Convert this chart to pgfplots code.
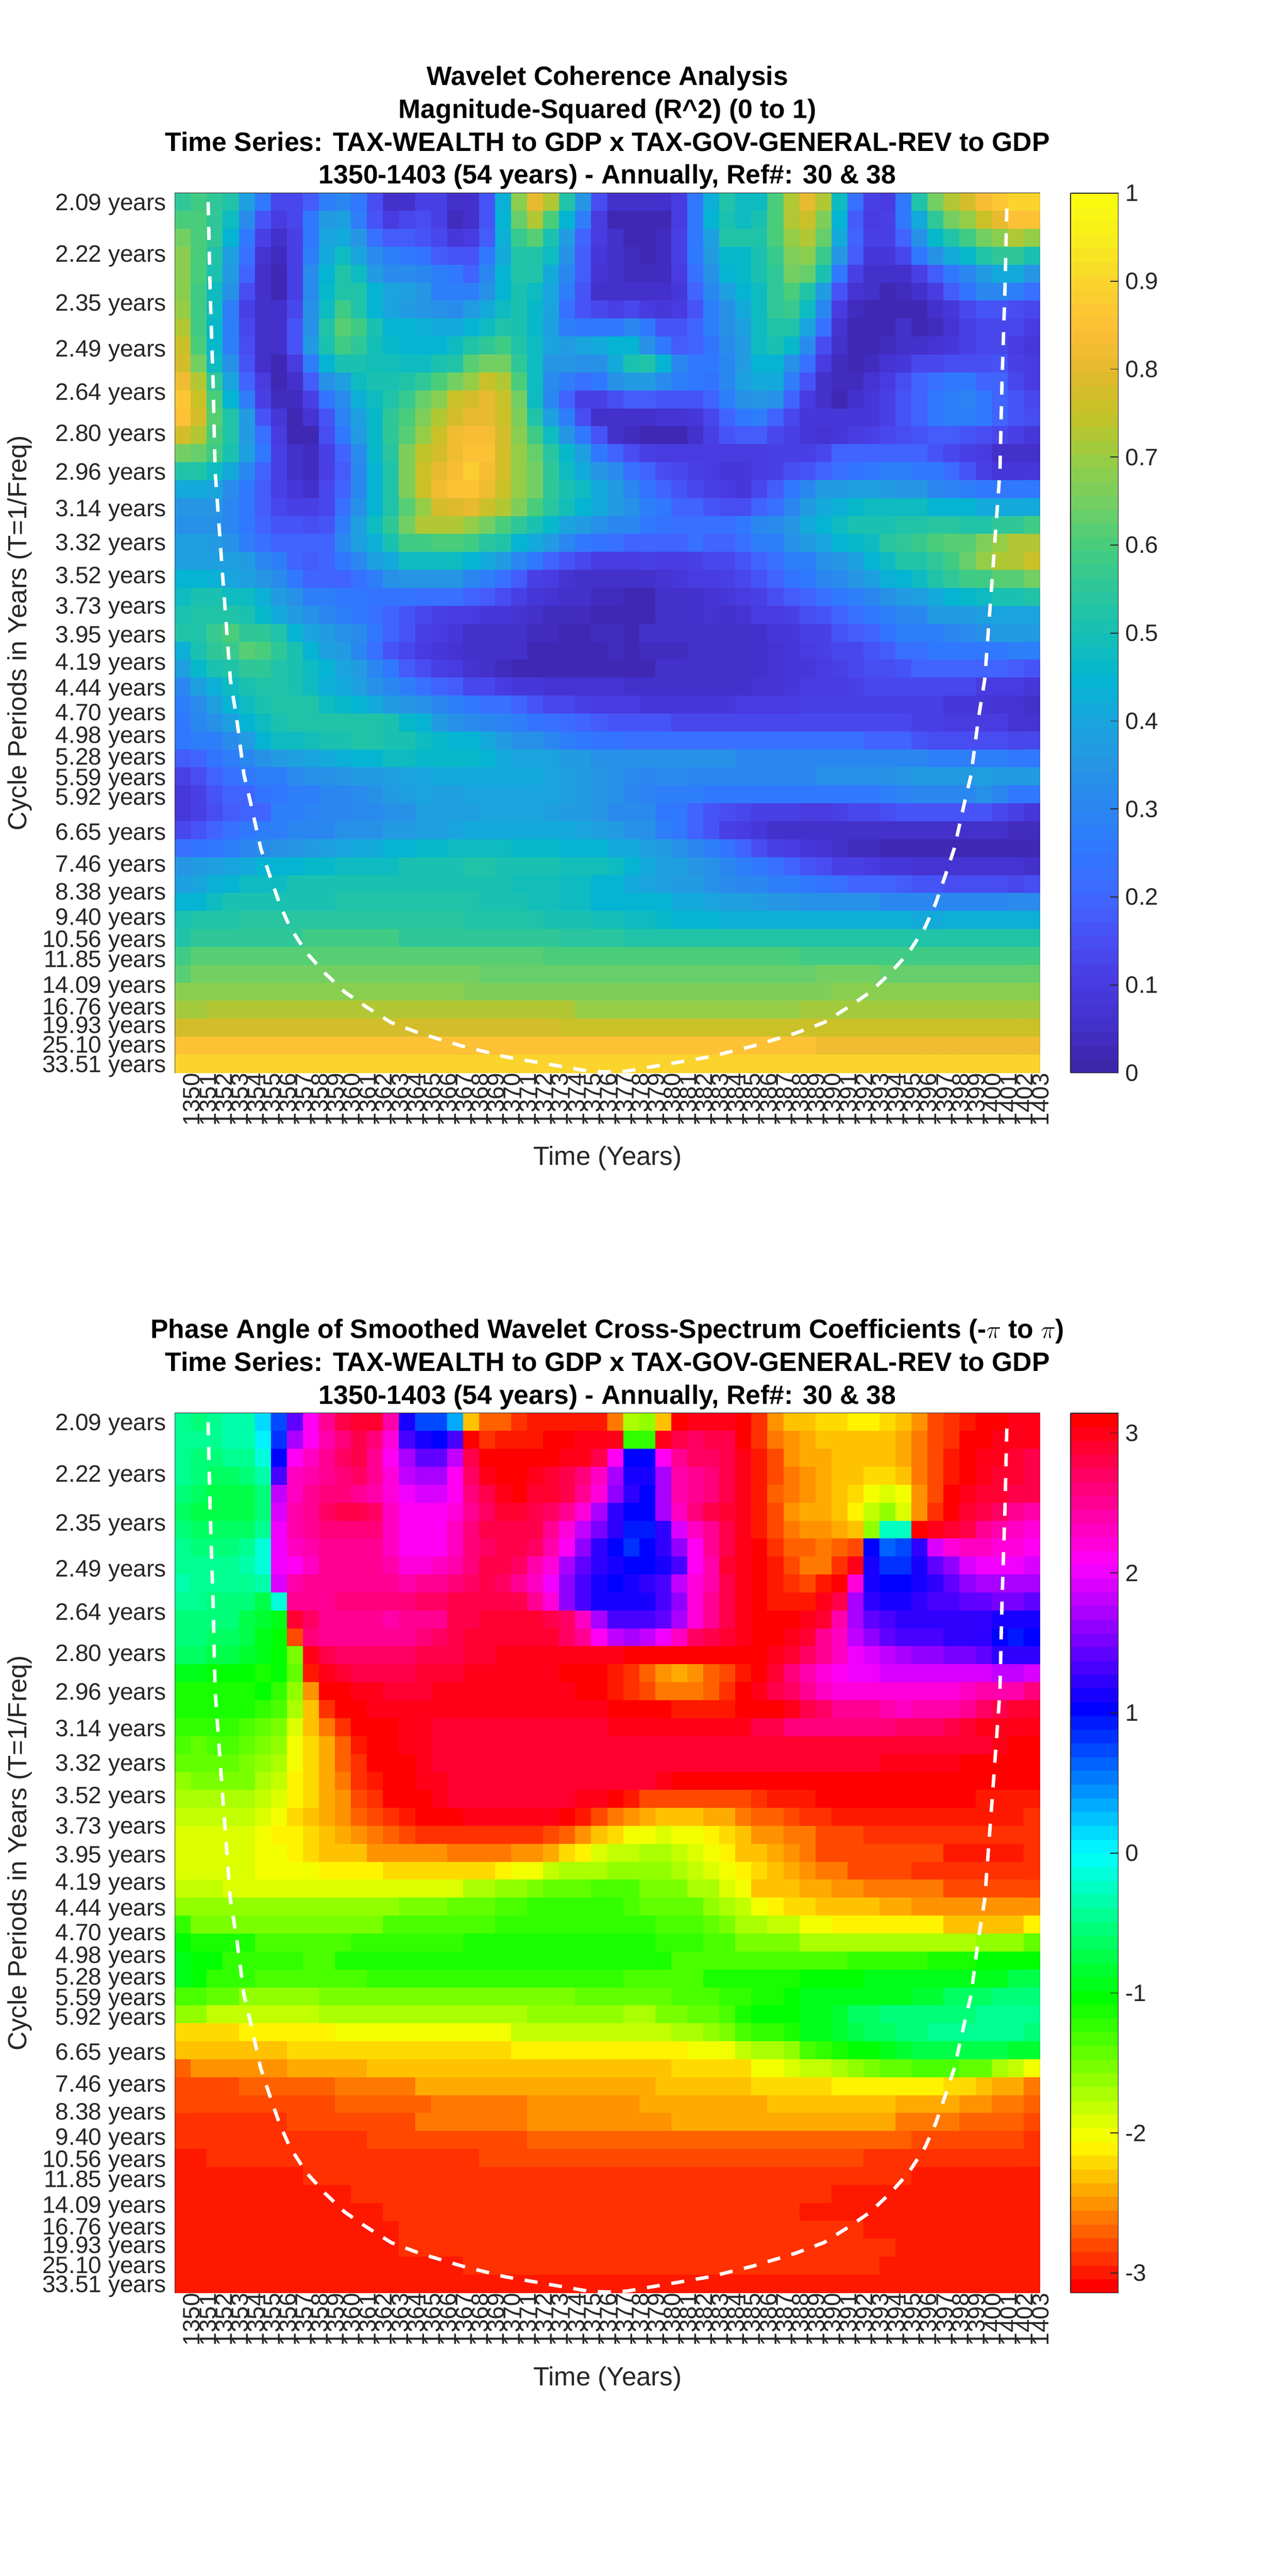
\documentclass[border=0pt]{standalone}
\usepackage{pgfplots}
\pgfplotsset{compat=1.18}
\usepackage{fontspec}
\setmainfont{Liberation Sans}
\definecolor{tickgray}{rgb}{0.15,0.15,0.15}
\newcount\colc \newcount\rowc \newcount\repc
\def\parseitem#1x#2x#3\relax{\def\cellval{#1}\repc=#2\relax}
\def\appendcell{\ifnum\colc<54 \edef\rowdata{\rowdata(\the\numexpr1350+\colc\relax,\the\rowc)[\cellval e-2]}\advance\colc by 1 \fi}
\makeatletter
\def\drow#1{\colc=0 \def\rowdata{}\@for\cellv:=#1\do{\expandafter\parseitem\cellv x1x\relax \loop\ifnum\repc>0 \appendcell\advance\repc by -1 \repeat}%
 \loop\ifnum\colc<54 \appendcell\repeat
 \xdef\alldata{\alldata\rowdata}\advance\rowc by 1 }
\makeatother
% ---- R^2, hundredths; NxM = value N in M adjacent cells
\def\alldata{}\rowc=0
\drow{55,58,56,52,38,25,14,13,18,28,30,25,15,6,6,12,12,5,5,16,43,68,80,73,53,35,15,5,5,5,5,10,25,43,52,47,48,60,73,80,72,47,22,12,10,25,52,65,73,77,84,87,90,90}
\drow{60,60,55,48,32,17,10,13,25,36,38,28,17,10,13,15,12,4,6,17,45,63,72,60,45,27,10,3,3,3,3,10,25,44,50,48,50,60,72,75,67,45,18,10,12,25,42,55,65,70,75,80,85,85}
\drow{65,60,55,45,25,12,6,12,25,40,42,35,22,18,18,17,14,8,10,18,43,57,62,50,36,20,10,5,3,3,4,12,25,38,52,52,53,60,70,72,63,42,20,12,12,20,33,46,53,58,65,68,73,70}
\drow{68,60,52,38,22,7,4,12,28,42,47,40,32,27,25,24,18,17,17,25,42,52,52,47,33,18,8,5,4,2,4,12,25,36,46,46,50,57,67,68,57,35,18,9,9,14,25,33,42,46,52,55,55,50}
\drow{68,60,50,36,20,5,3,12,32,45,52,48,36,32,32,30,27,25,20,30,45,52,52,42,30,18,7,5,4,4,4,10,23,33,45,46,50,55,65,63,50,26,12,6,6,6,12,18,26,31,37,42,42,35}
\drow{68,58,47,33,15,5,3,12,32,46,53,52,45,40,38,35,28,27,27,33,45,50,47,40,28,16,5,5,5,5,5,8,19,30,38,45,47,55,60,53,37,17,7,5,3,4,5,10,18,24,30,30,27,22}
\drow{70,58,47,28,12,5,5,14,33,48,58,53,45,40,37,35,33,32,37,42,48,50,46,40,23,17,14,12,13,10,9,10,17,27,33,41,48,55,57,47,30,10,4,3,3,3,3,5,9,13,16,17,15,14}
\drow{72,58,46,27,13,5,5,17,33,52,62,58,50,45,44,43,42,42,45,47,52,50,46,38,28,26,26,26,30,26,17,17,20,27,33,39,48,52,53,40,22,7,3,3,3,5,2,4,7,12,14,14,13,10}
\drow{76,60,46,28,15,5,5,17,36,50,58,55,49,46,45,45,45,48,52,56,58,52,47,40,37,40,42,45,45,33,26,18,20,24,32,37,47,50,46,32,15,6,3,3,4,5,5,7,9,12,14,14,10,9}
\drow{78,65,47,33,17,6,3,10,27,45,51,51,49,49,47,48,50,53,62,65,65,55,48,35,35,33,33,42,50,52,45,30,25,25,30,37,45,45,33,23,10,4,3,4,7,9,13,14,15,15,15,16,11,10}
\drow{82,72,55,40,20,10,3,5,18,34,38,47,50,50,52,56,60,65,70,75,72,60,48,32,27,23,26,33,37,37,32,27,25,24,30,38,42,42,28,16,5,4,4,7,10,15,19,22,25,25,20,20,13,10}
\drow{86,75,60,45,27,11,4,4,11,24,32,43,47,53,57,63,68,75,78,80,75,65,47,30,20,12,12,15,18,18,17,17,17,20,28,33,35,33,20,10,5,3,5,8,11,16,20,26,27,29,25,20,16,14}
\drow{85,77,62,53,37,17,8,3,7,17,29,38,46,55,60,67,72,78,81,81,76,66,52,38,27,15,6,5,5,6,7,7,8,14,20,26,27,20,14,9,8,8,8,9,12,17,20,26,27,27,26,20,17,15}
\drow{78,72,60,52,37,23,10,3,3,15,25,37,46,55,62,70,75,82,84,83,77,68,58,47,35,26,17,5,4,3,2,3,6,11,17,18,18,14,11,8,7,8,10,11,13,15,17,18,18,17,15,13,12,9}
\drow{65,63,58,50,38,25,12,5,4,11,20,32,46,54,66,74,77,82,85,85,77,70,64,54,46,38,26,20,15,12,10,10,10,10,10,10,10,11,12,12,13,20,20,20,20,20,20,17,14,12,10,6,5,6}
\drow{53,53,47,42,30,20,11,5,4,12,18,30,44,53,66,75,80,84,88,84,77,70,65,55,48,42,35,32,22,20,15,14,12,10,9,9,10,12,15,17,20,22,24,25,27,27,26,25,21,17,12,9,8,8}
\drow{42,42,40,32,26,18,12,8,6,13,20,30,45,52,67,75,82,85,85,82,76,70,65,55,50,47,42,36,30,24,20,17,14,12,10,9,13,18,25,30,36,37,38,38,37,35,35,31,29,27,25,25,25,25}
\drow{35,35,35,30,25,18,14,11,11,14,23,33,45,52,62,70,77,79,80,76,72,66,60,54,49,45,42,36,33,27,25,20,19,17,15,15,20,22,30,37,42,43,46,47,47,47,47,45,45,45,42,42,42,42}
\drow{33,33,33,30,25,19,17,16,15,17,27,38,47,55,65,72,72,72,70,65,60,55,50,46,40,37,34,30,30,26,24,23,22,22,22,25,30,32,35,42,45,47,50,50,50,52,52,54,54,53,52,55,55,58}
\drow{38,38,37,33,27,23,20,19,19,20,30,38,43,50,58,58,60,60,58,54,52,45,42,37,30,25,24,23,20,20,20,20,22,20,20,22,27,27,33,37,40,45,46,47,54,55,57,60,62,62,66,70,72,73}
\drow{38,38,38,38,36,30,27,20,18,20,25,30,38,42,47,48,48,48,45,42,37,30,25,20,17,13,10,10,10,11,10,10,12,13,14,17,20,23,27,28,33,35,38,45,47,52,53,55,58,63,70,72,73,75}
\drow{45,45,43,40,38,35,32,25,20,20,20,22,27,33,35,35,35,35,30,28,22,18,12,10,7,6,5,5,6,6,7,8,10,10,12,14,17,20,24,26,30,32,35,38,43,45,47,52,55,58,58,62,62,65}
\drow{47,50,50,48,47,43,37,33,27,27,25,25,24,24,24,23,22,22,20,18,15,12,9,7,6,5,4,4,3,3,5,5,6,7,8,10,12,15,18,19,22,26,28,30,33,36,38,42,45,46,47,50,50,53}
\drow{50,53,53,53,50,46,42,37,33,30,28,25,22,20,17,13,11,10,10,8,8,7,5,4,4,4,2,3,3,3,5,5,5,7,6,7,10,10,12,15,17,20,23,26,27,30,31,36,37,37,38,40,40,40}
\drow{52,53,57,60,56,55,52,45,40,36,33,32,26,20,16,12,10,8,6,6,6,5,4,4,3,2,4,4,3,6,6,6,5,5,5,6,6,8,9,11,11,17,18,20,24,27,27,28,30,32,33,36,36,36}
\drow{43,50,55,57,62,60,55,50,45,38,37,30,23,17,14,10,9,7,6,5,5,5,3,3,3,3,3,4,2,4,4,4,5,5,5,5,6,7,8,10,12,13,14,17,18,22,23,25,26,26,26,26,27,27}
\drow{38,46,50,53,55,55,53,50,47,44,40,36,30,25,18,15,12,10,7,6,4,3,3,3,3,3,3,3,3,3,5,5,5,5,5,6,6,7,8,9,10,11,13,15,15,16,19,20,20,20,20,19,18,17}
\drow{30,38,43,48,50,52,52,50,47,43,42,38,33,30,28,23,20,18,14,13,10,9,9,7,7,7,7,7,6,5,5,5,5,6,6,6,7,7,9,10,10,10,11,13,13,14,14,14,14,13,10,10,10,8}
\drow{27,32,38,45,47,50,52,53,52,48,46,44,42,37,35,33,30,28,25,23,22,19,16,14,13,11,10,10,10,9,9,9,9,9,9,10,10,10,10,11,12,12,12,12,12,12,12,11,9,9,8,7,7,6}
\drow{26,30,33,38,44,48,50,52,52,52,52,52,52,50,46,44,37,34,32,31,29,28,24,23,21,20,18,17,17,16,16,14x14,13,12,12,10,10,10,10,7,7,6}
\drow{26,27,28,32,36,44,47,47,49,50,50,52,52,50,50,48,46,45,44,41,37,34,34,30,28,26,24,24,23x5,22x10,20,20,20,17,15x5,13,13}
\drow{18,20,24,27,30,33,37,39,40,42,43,45,45,48,48,46,46,46,46,45,42,40,40,40,36,36,34,33x8,31x5,30x7,27x5,26,26}
\drow{12,15,20,22,25,27,27,32,33,34,35,36,37,38,40,40,41,41,42,42,42,41,41,40,38,37,35,33,32,31,32,32,31,30,30,30,30,31,31,31,33,33,33,34,34,35,36,37,37,37,38,36,36,36}
\drow{8,11,16,19,20,24,25,27,28,30,30,32,33,36,38,40,39,39,40,40,40,40,40,40,38,37,35,33,30,29,28,28,28,25x9,26,26,28,29,30,30,31,31,33,30,26,26}
\drow{9,12,15,18,20,20,27,27,29,30,31,32,32,34,34,38,38,38,39,40,40,40,40,38,37,36,35,32,32,32,25,25,20,17,15,13,11,11,11,10,10,12,13,13,15,17,17,16,16,17,17,13,12,8}
\drow{14,16,20,22,25,27,27,30,30,30,33,33,34,37,37,39,39,40,41,42,42,42,42,41,41,40,38,36,33,33,27,25,20,17,12,10,8,6,5x14,4,4,2,2}
\drow{22,24,25,28,30,32,33,35,36,38,40,41,42,44,45,46,46,47,47,47,47,46,46,46,45,45,45,42,42,38,37,34,30,27,24,20,15,12,10,9,7,6,4,4,3x5,2x5}
\drow{35,37,38,40,42,44,45,45,46,46,47,47,48,48,50,50,50,50,52,52,51,51,51,51,49,49,49,47,45,42,38,38,35,33,31,27,26,23,20,17,15,12,12,10,8,8,7x7,6}
\drow{38,40,43,44,47,47,47,50x6,51x4,50x4,49,49,49,47,47,45,45,42,40,38,36,36,33,32,30,30,28,27,25,24,22,20,20,20,18,17,16,15,15,15,15,14,15}
\drow{44,45,48,50x7,52x9,50,50,50,49,49,47,47,45,45,45,44,44,42,42,40,38,38,36,35,35,34,34,34,33,33,30x8,32}
\drow{50,52x3,54x14,52x5,50x3,49x2,47x2,46,45x3,43x12,42x2,43x6}
\drow{53,56x7,58x6,56x10,54x4,53x26}
\drow{58,61x22,60x16,59x15}
\drow{62,65x18,64x21,65x4,63x10}
\drow{68x18,67x23,68x13}
\drow{71x2,73x12,72x11,70x14,71x15}
\drow{77x24,76x30}
\drow{85x40,82x14}
\drow{90x54}
\let\dataA\alldata
% ---- phase angle, hundredths of a radian
\def\alldata{}\rowc=0
\drow{-40,-50,-45,-35,-30,15,70,140,210,250,275,290,290,240,110,75,75,30,-230,-270,-270,-285,-300,-300,-300,-300,-300,-260,-170,-165,-230,-310,295,300,300,-310,-285,-250,-235,-235,-225,-220,-210,-210,-220,-230,-250,-275,-290,-300,310,305,300,300}
\drow{-40,-45,-40,-35,-30,0,80,170,215,245,260,280,260,220,135,115,105,130,-310,-285,-295,-295,-295,-310,-310,300,295,300,-125,-125,295,280,270,275,280,305,-290,-265,-250,-240,-230,-230,-230,-230,-230,-240,-260,-275,-290,-310,305,300,295,295}
\drow{-40,-50,-50,-45,-40,-10,105,215,230,255,265,275,250,215,170,145,145,185,280,-310,-310,-310,-310,-310,300,295,280,215,100,100,215,255,265,270,280,300,-300,-275,-250,-240,-240,-230,-230,-230,-230,-240,-260,-280,-300,-310,300,295,290,280}
\drow{-45,-55,-60,-60,-55,-30,130,230,240,255,260,265,250,220,185,175,175,210,265,295,305,305,300,290,280,260,230,170,110,110,170,240,255,260,280,300,-300,-275,-260,-250,-240,-235,-235,-225,-225,-235,-260,-280,-300,310,300,290,285,280}
\drow{-55,-65,-70,-70,-70,-50,185,235,250,260,260,255,245,225,205,195,195,215,260,280,300,310,290,285,275,255,220,160,120,105,175,240,255,260,280,300,-300,-270,-260,-250,-240,-235,-220,-205,-190,-205,-250,-280,-310,300,290,285,280,280}
\drow{-60,-70,-70,-70,-70,-55,195,240,255,270,275,275,265,235,215,210,210,220,255,270,285,285,280,270,250,220,170,120,105,105,170,235,260,275,285,300,-300,-280,-255,-245,-240,-230,-210,-180,-160,-190,-250,-290,-310,290,280,270,250,240}
\drow{-50,-60,-60,-60,-60,-40,200,240,250,260,260,260,260,230,215,215,215,235,260,275,280,280,275,250,220,185,150,120,90,90,125,195,230,255,280,300,-295,-280,-265,-255,-250,-245,-235,-165,-20,-20,310,295,285,275,255,240,230,225}
\drow{-40,-50,-50,-50,-40,-15,200,230,245,255,255,255,255,230,215,210,210,230,260,270,275,275,265,240,210,160,125,105,85,100,120,160,215,250,280,300,310,-290,-270,-270,-260,-270,-280,105,60,75,125,195,225,230,230,225,220,210}
\drow{-40,-45,-45,-45,-35,-10,200,215,230,250,250,250,250,240,220,220,230,245,260,275,275,270,240,220,175,145,120,110,105,105,115,135,210,245,285,300,310,-295,-280,-265,-265,-285,300,115,85,85,110,140,160,190,200,205,205,190}
\drow{-30,-40,-40,-40,-40,-30,190,240,250,255,255,255,250,250,245,250,255,260,265,275,270,255,230,200,160,135,110,105,110,120,135,180,220,240,280,300,310,-300,-290,-280,-300,310,220,110,100,100,110,120,140,160,175,175,175,175}
\drow{-40,-45,-50,-50,-55,-70,-10,250,255,255,260,260,260,260,260,265,270,275,275,280,280,275,250,220,160,130,110,110,110,110,130,165,225,255,280,300,310,-300,-300,-300,300,280,175,120,115,115,120,130,135,145,145,155,155,145}
\drow{-50,-50,-55,-55,-70,-85,-90,285,270,255,255,255,250,245,250,250,255,280,280,285,285,285,285,275,265,235,170,130,130,130,140,175,220,250,280,300,305,314,314,300,285,240,170,140,130,120,120,120,125,125,125,110,110,110}
\drow{-55,-55,-60,-65,-75,-90,-100,-275,260,255,255,255,255,255,250,260,270,275,285,285,290,290,290,285,270,255,215,185,175,185,200,230,265,280,290,300,305,310,300,285,255,230,185,165,140,135,135,135,120,120,120,105,95,100}
\drow{-60,-65,-70,-75,-80,-95,-105,-150,300,280,270,270,270,270,270,275,275,275,285,285,295,300,300,300,300,300,300,300,310,305,314,314,314,314,314,314,310,300,285,265,255,235,205,195,180,175,160,160,150,150,140,125,120,120}
\drow{-90,-95,-100,-100,-105,-110,-105,-145,-295,300,290,275,275,275,275,285,290,290,295,295,300,300,300,300,305,310,-310,-300,-285,-270,-255,-245,-255,-270,-280,-300,305,285,260,240,220,210,205,205,195,195,195,195,195,195,190,185,185,195}
\drow{-110,-110,-110,-110,-115,-105,-120,-165,-255,314,305,295,295,290,285,290,295,295,300,300,300,300,300,300,300,305,310,-300,-285,-280,-265,-265,-265,-270,-290,-314,295,280,265,250,235,225,220,220,220,220,220,220,220,230,240,245,245,260}
\drow{-115,-115,-115,-115,-115,-125,-130,-170,-235,-285,-314,310,300x15,305,310,314,-310,-300,-295,-295,-300,-310,-314,305,295,275,265,255,250,250,240,235,245,245,245,255,270,280,285,290,290,300}
\drow{-120,-120,-120,-125,-130,-140,-155,-195,-230,-260,-285,-310,305,305,300,295,290x11,300x6,295,295,295,280,275,260,260,260,260,260,260,260,270,270,270,280,290,295,300,300,300}
\drow{-135,-140,-135,-135,-140,-155,-165,-200,-220,-245,-270,-295,314,305,300,300,290x6,285x24,290x5,300,305,310}
\drow{-145,-145,-140,-145,-155,-165,-170,-205,-220,-245,-270,-285,-314,305,305,300,290,285x14,290x13,295x4,300,305x4,314}
\drow{-160,-150,-150,-150,-155,-170,-180,-210,-225,-240,-260,-285,-300,-314,310,300,300,290,285x10,290,290,295,305,305,314x3,305x13,314x5}
\drow{-175x3,-170,-175,-185,-195,-210,-225,-240,-255,-275,-290,-314,-314,305,300,290x8,300,300,310,-300,-275,-280x6,-290,-295x3,-310x10,-295x4}
\drow{-185x5,-195,-205,-220,-230,-245,-250,-270,-280,-290,-300,-314,-314,305,300x6,-314,-300,-275,-265,-250,-240,-230x3,-240,-245,-260,-270,-270,-280,-290,-290,-295,-300x11,-285}
\drow{-195x5,-205,-210,-215,-225,-235,-245,-255,-260,-270,-280,-285x8,-275,-270,-250,-235,-225,-205,-205,-195,-205,-205,-215,-225,-230,-250,-255,-260,-265,-275,-280,-280,-290x11}
\drow{-195x5,-205,-205,-215,-225,-230,-230,-235,-250,-250,-255x3,-260x4,-255x2,-245,-225,-215,-195,-185,-180,-170,-170,-180,-190,-205,-215,-230,-235,-240,-255,-260,-275,-275,-280x6,-295x5,-285}
\drow{-195x5,-205x4,-215x4,-220x7,-210,-205,-200,-185,-175,-170,-170,-165x4,-170,-180,-190,-200,-215,-225,-235,-245,-255,-265,-265,-280x4,-285x8}
\drow{-185x3,-195x15,-175x2,-160x2,-150,-140x3,-130x2,-135,-150,-150,-155,-170,-175,-195,-205,-230x2,-235,-245x2,-255x2,-260x5,-275x6}
\drow{-165x14,-155x3,-145x3,-135x2,-120x6,-130,-140,-145x3,-160,-170,-185,-200,-210,-225x2,-235x4,-245x2,-255x8}
\drow{-125,-150x12,-135x4,-130x3,-118x8,-120x2,-130x3,-140,-155,-175x2,-185x2,-200x2,-215x7,-230x5,-210}
\drow{-105,-115x4,-130x6,-120x7,-110x12,-120x3,-135x2,-150x4,-170x11,-160x3,-145}
\drow{-95,-105x2,-120x5,-130x2,-115x18,-110x3,-130x7,-135x4,-125x5,-115x3,-105x3,-100}
\drow{-95,-105,-120x3,-135x7,-125x16,-130x5,-115x3,-110x3,-105x4,-95x6,-90x3,-75x2}
\drow{-130x2,-145x2,-160x5,-155x16,-140x3,-145x3,-130x3,-120x2,-110x2,-105,-95x3,-90x4,-85x2,-65x3,-55x3}
\drow{-165x2,-185x7,-175x13,-160x6,-170x2,-150x2,-140x2,-130,-110,-105x2,-100,-95x2,-80,-65x2,-55x2,-50x4,-45x4}
\drow{-220x2,-225x2,-215x6,-205x11,-185x7,-180x3,-170x2,-160,-150,-135,-125,-120,-115,-95x2,-80,-70,-60x2,-55x2,-45x6,-55}
\drow{-235x7,-225x4,-220x10,-210x11,-200x3,-185,-175,-170,-160,-135,-125,-110,-100,-100,-95,-80,-70x6,-85x2}
\drow{-270,-255x6,-245x5,-235x6,-230x13,-225x5,-205x2,-195,-185x2,-175,-165,-155,-145x2,-135x3,-140x2,-170,-180,-205}
\drow{-280x4,-270x6,-260x5,-245x7,-240x8,-230x6,-220x5,-210x7,-220x2,-230,-245x2,-260}
\drow{-280x10,-270x6,-260x6,-250x7,-240x8,-230x8,-240x4,-250x2,-260x2,-270}
\drow{-285x7,-275x8,-265x7,-255x9,-245x14,-260x4,-270x4,-275}
\drow{-285x12,-275x10,-270x24,-280x7,-285}
\drow{-295x2,-285x17,-278x24,-285x11}
\drow{-295x8,-288x38,-295x8}
\drow{-295x11,-288x30,-295x13}
\drow{-295x13,-288x26,-295x15}
\drow{-295x14,-288x29,-295x11}
\drow{-295x14,-288x31,-295x9}
\drow{-295x18,-288x26,-295x10}
\drow{-295x54}
\let\dataB\alldata
\def\coi{(1351.56,0)(1351.69,5)(1351.87,10)(1352.0,15)(1352.46,20.7)(1352.95,26.6)(1353.35,28.8)(1353.8,31.9)(1354.2,33.4)(1354.85,36)(1355.37,37.4)(1356.03,39.1)(1356.68,40.4)(1357.7,41.8)(1358.8,42.9)(1360.1,44)(1361.4,44.8)(1363,45.7)(1364.8,46.3)(1367.4,47.0)(1370.1,47.6)(1372.7,48)(1375.3,48.4)(1376.5,48.45)(1377.7,48.4)(1380.3,48)(1382.9,47.6)(1385.6,47.0)(1388.2,46.3)(1390,45.7)(1391.6,44.8)(1392.9,44)(1394.2,42.9)(1395.3,41.8)(1396.32,40.4)(1396.97,39.1)(1397.63,37.4)(1398.15,36)(1398.8,33.4)(1399.2,31.9)(1399.65,28.8)(1400.05,26.6)(1400.54,20.7)(1401.0,15)(1401.13,10)(1401.31,5)(1401.44,0)}
\pgfplotsset{
  colormap={wparbase}{rgb255=(60,38,168) rgb255=(68,48,205) rgb255=(72,60,225) rgb255=(72,80,245) rgb255=(62,105,255) rgb255=(48,120,255) rgb255=(42,135,240) rgb255=(38,150,228) rgb255=(25,165,222) rgb255=(2,182,208) rgb255=(22,192,180) rgb255=(45,198,155) rgb255=(70,205,125) rgb255=(115,207,100) rgb255=(150,205,70) rgb255=(195,195,40) rgb255=(225,185,45) rgb255=(254,190,55) rgb255=(250,210,45) rgb255=(247,235,30) rgb255=(249,251,15)},
  colormap={hsvbase}{rgb255=(255,0,0) rgb255=(255,255,0) rgb255=(0,255,0) rgb255=(0,255,255) rgb255=(0,0,255) rgb255=(255,0,255) rgb255=(255,0,0)},
  colormap={wpar64}{samples of colormap=(64 of wparbase)},
  colormap={hsv64}{samples of colormap=(64 of hsvbase)},
  heat/.style={
    scale only axis, width=503.76pt, height=512.4pt, anchor=north west,
    xmin=1349.5, xmax=1403.5, ymin=-0.5, ymax=48.5, y dir=reverse,
    axis line style={line width=0.5pt,color=tickgray},
    tick style={line width=0.5pt,color=tickgray}, tick align=inside,
    major tick length=4.6pt, ticklabel pos=left,
    xtick distance=1, minor tick num=0,
    /pgf/number format/set thousands separator={},
    /pgf/number format/assume math mode=true,
    tick label style={font=\fontsize{13.8}{14}\selectfont,text=tickgray},
    xticklabel style={rotate=90,anchor=east,inner sep=0pt,yshift=-5pt},
    yticklabel style={inner sep=0pt,xshift=-5pt,yshift=-1.5pt},
    ytick={0,2.874,5.586,8.146,10.563,12.844,14.996,17.028,18.946,20.756,22.465,24.078,25.6,27.037,28.393,29.673,30.881,32.022,33.098,34.114,35.073,35.978,36.832,37.639,38.4,39.118,39.797,40.437,41.040,41.611,42.149,42.657,43.136,43.589,44.016,44.420,44.8,45.159,45.498,45.818,46.120,46.406,46.674,46.928,47.168,47.394,47.608,47.810,48},
    yticklabels={2.09 years,2.22 years,2.35 years,2.49 years,2.64 years,2.80 years,2.96 years,3.14 years,3.32 years,3.52 years,3.73 years,3.95 years,4.19 years,4.44 years,4.70 years,4.98 years,5.28 years,5.59 years,5.92 years,{},6.65 years,{},7.46 years,{},8.38 years,{},9.40 years,{},10.56 years,{},11.85 years,{},{},14.09 years,{},{},16.76 years,{},{},19.93 years,{},{},{},25.10 years,{},{},{},{},33.51 years},
    xlabel={Time (Years)}, ylabel={Cycle Periods in Years (T=1/Freq)},
    label style={font=\fontsize{15.3}{17}\selectfont,text=tickgray},
    xlabel style={at={(axis description cs:0.5,-0.0974)},anchor=center},
    ylabel style={at={(axis description cs:-0.1796,0.5)},anchor=center},
    title style={font=\fontsize{15.5}{19.2}\selectfont\bfseries,align=center,at={(axis description cs:0.5,1)},anchor=south,yshift=-6pt,inner sep=2pt},
    colorbar sampled, colormap access=piecewise constant,
    colorbar style={
      samples=65, width=27.84pt, at={(1.0353,1)}, anchor=north west,
      tick align=inside, major tick length=4.6pt, ytick pos=right, yticklabel pos=right,
      xtick=\empty, axis line style={line width=0.5pt,color=tickgray},
      tick style={line width=0.5pt,color=tickgray},
      /pgf/number format/assume math mode=true,
      /pgf/number format/fixed, /pgf/number format/precision=1,
      yticklabel style={font=\fontsize{13.8}{14}\selectfont,text=tickgray,inner sep=0pt,xshift=4pt},
    },
  },
  cellplot/.style={matrix plot*, mesh/cols=54, mesh/rows=49, point meta=explicit, shader=flat corner},
  coiline/.style={white, line width=2pt, dash pattern=on 7.6pt off 6.8pt, forget plot},
}
\def\plotcells#1{\addplot[cellplot] coordinates {#1};}
\begin{document}
\begin{tikzpicture}
\path[use as bounding box] (0,0) rectangle (750pt,1500.48pt);
\begin{axis}[heat, at={(102pt,1387.92pt)}, colormap name=wpar64, point meta min=0, point meta max=1,
  colorbar style={ytick={0,0.1,...,1}, yticklabels={0,0.1,0.2,0.3,0.4,0.5,0.6,0.7,0.8,0.9,1}},
  title={Wavelet Coherence Analysis\\Magnitude-Squared (R\textasciicircum 2) (0 to 1)\\Time Series: TAX-WEALTH to GDP x TAX-GOV-GENERAL-REV to GDP\\1350-1403 (54 years) - Annually, Ref\#: 30 \& 38}]
\expandafter\plotcells\expandafter{\dataA}
\addplot[coiline] coordinates {\coi};
\end{axis}
\begin{axis}[heat, at={(102pt,677.28pt)}, colormap name=hsv64, point meta min=-3.14159, point meta max=3.14159,
  colorbar style={ytick={-3,-2,-1,0,1,2,3}, yticklabels={-3,-2,-1,0,1,2,3}},
  title={Phase Angle of Smoothed Wavelet Cross-Spectrum Coefficients (-$\pi$ to $\pi$)\\Time Series: TAX-WEALTH to GDP x TAX-GOV-GENERAL-REV to GDP\\1350-1403 (54 years) - Annually, Ref\#: 30 \& 38}]
\expandafter\plotcells\expandafter{\dataB}
\addplot[coiline] coordinates {\coi};
\end{axis}
\end{tikzpicture}
\end{document}
